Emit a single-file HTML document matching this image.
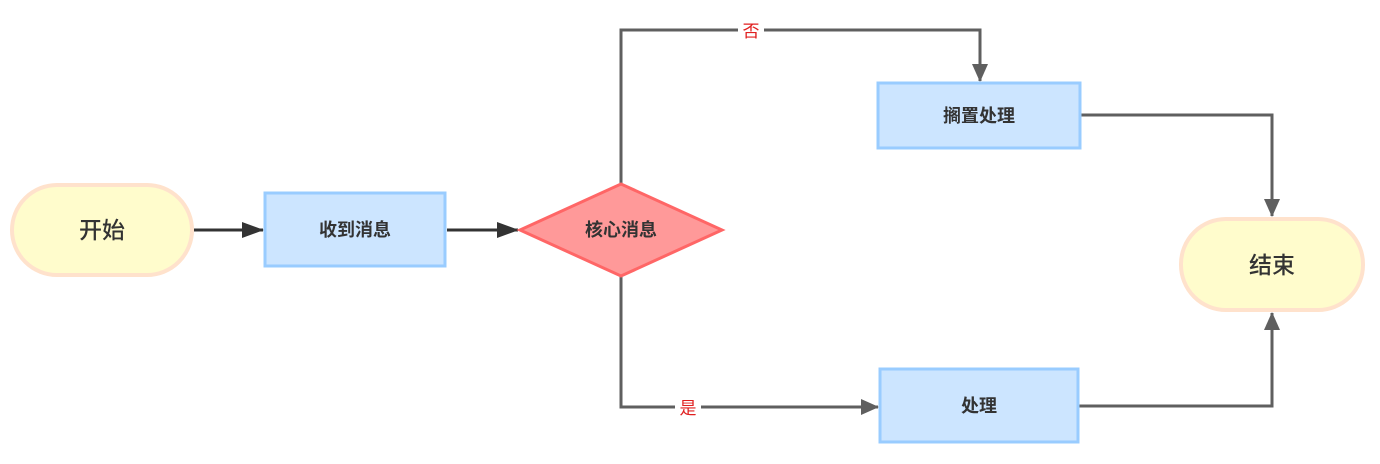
<!DOCTYPE html>
<html><head><meta charset="utf-8"><style>
html,body{margin:0;padding:0;background:#fff;width:1380px;height:464px;overflow:hidden}
text{font-family:"Liberation Sans","Noto Sans CJK SC",sans-serif}
</style></head><body>
<svg width="1380" height="464" viewBox="0 0 1380 464" xmlns="http://www.w3.org/2000/svg">
<defs>
<marker id="b" markerWidth="18" markerHeight="16" refX="17" refY="8" orient="auto" markerUnits="userSpaceOnUse"><path d="M0,0 L18,8 L0,16 Z" fill="#5f5f5f"/></marker>
<marker id="c" markerWidth="22" markerHeight="16" refX="21" refY="8" orient="auto" markerUnits="userSpaceOnUse"><path d="M0,0 L22,8 L0,16 Z" fill="#333"/></marker>
</defs>
<g fill="none" stroke-width="3">
<path d="M194,230 L263,230" stroke="#333" marker-end="url(#c)"/>
<path d="M447,230 L518,230" stroke="#333" marker-end="url(#c)"/>
<path d="M621,184 L621,30 L980,30 L980,81" stroke="#5f5f5f" marker-end="url(#b)"/>
<path d="M621,277 L621,407 L878,407" stroke="#5f5f5f" marker-end="url(#b)"/>
<path d="M1081,115 L1272,115 L1272,216" stroke="#5f5f5f" marker-end="url(#b)"/>
<path d="M1079,406 L1272,406 L1272,313" stroke="#5f5f5f" marker-end="url(#b)"/>
</g>
<rect x="738" y="20" width="26" height="20" fill="#fff"/>
<text x="751" y="37" font-size="17" fill="#e02020" text-anchor="middle">否</text>
<rect x="675" y="397" width="26" height="20" fill="#fff"/>
<text x="688" y="414" font-size="17" fill="#e02020" text-anchor="middle">是</text>
<rect x="12" y="185" width="180" height="90" rx="45" fill="#fffccc" stroke="#ffe2cc" stroke-width="4"/>
<text x="102" y="238" font-size="23" font-weight="500" fill="#333" text-anchor="middle">开始</text>
<rect x="265" y="193" width="180" height="73" fill="#cce5ff" stroke="#99ccff" stroke-width="3"/>
<text x="355" y="236" font-size="18" font-weight="bold" fill="#333" text-anchor="middle">收到消息</text>
<path d="M621,184 L722,230 L621,276 L520,230 Z" fill="#ff9999" stroke="#ff6666" stroke-width="3"/>
<text x="621" y="236" font-size="18" font-weight="bold" fill="#333" text-anchor="middle">核心消息</text>
<rect x="878" y="83" width="202" height="65" fill="#cce5ff" stroke="#99ccff" stroke-width="3"/>
<text x="979" y="122" font-size="18" font-weight="bold" fill="#333" text-anchor="middle">搁置处理</text>
<rect x="880" y="369" width="198" height="73" fill="#cce5ff" stroke="#99ccff" stroke-width="3"/>
<text x="979" y="412" font-size="18" font-weight="bold" fill="#333" text-anchor="middle">处理</text>
<rect x="1181" y="219" width="182" height="91" rx="45" fill="#fffccc" stroke="#ffe2cc" stroke-width="4"/>
<text x="1272" y="273" font-size="23" font-weight="500" fill="#333" text-anchor="middle">结束</text>
</svg>
</body></html>
